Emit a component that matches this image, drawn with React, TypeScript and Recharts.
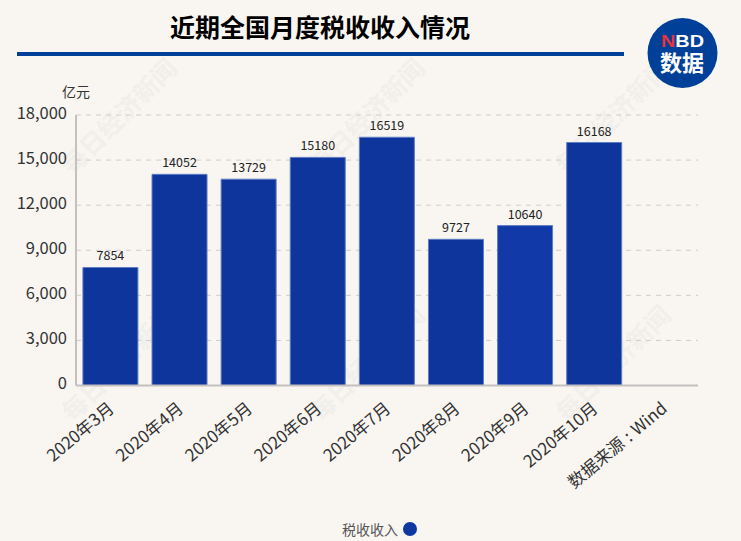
import React from 'react';
import { BarChart, Bar, XAxis, YAxis, CartesianGrid, Cell, LabelList, Legend } from 'recharts';

const categories = ['2020年3月', '2020年4月', '2020年5月', '2020年6月', '2020年7月', '2020年8月', '2020年9月', '2020年10月', '数据来源 : Wind'];
const values: (number | null)[] = [7854, 14052, 13729, 15180, 16519, 9727, 10640, 16168, null];
const yTicks = [0, 3000, 6000, 9000, 12000, 15000, 18000];
const seriesName = '税收收入';
const titleText = '近期全国月度税收收入情况';
const unitText = '亿元';
const watermark = '每日经济新闻';
const watermarkCentres = [[118, 115], [366, 115], [612, 115], [118, 362], [366, 362], [612, 362]];

const table = categories.map((name, i) => ({ name, value: values[i] }));
const FONT = '"Noto Sans CJK SC", "Noto Sans", sans-serif';
const BAR = '#0d359c';

const LegendBody = () => (
  <div style={{ position: 'absolute', left: 342, top: 0, display: 'flex', alignItems: 'center', height: 24, fontFamily: FONT, fontSize: 14, color: '#555' }}>
    <span>{seriesName}</span>
    <span style={{ display: 'inline-block', width: 14, height: 14, borderRadius: 7, background: '#0d38a0', marginLeft: 5 }} />
  </div>
);

const XTick = ({ x, y, payload }: any) => (
  <g transform={`translate(${x},${y + 11})`}>
    <text transform="rotate(-40)" textAnchor="end" wordSpacing={1} fontFamily={FONT} fontSize={17} fill="#333" dominantBaseline="central">{payload.value}</text>
  </g>
);

export default function App() {
  return (
    <div style={{ position: 'absolute', left: 0, top: 0, width: 741, height: 541, background: '#f9f6f2', overflow: 'hidden', fontFamily: FONT }}>
      <svg width={741} height={541} style={{ position: 'absolute', left: 0, top: 0 }}>
        {watermarkCentres.map(([x, y], i) => (
          <text key={i} x={x} y={y} transform={`rotate(-45 ${x} ${y})`} textAnchor="middle" dominantBaseline="central" fontFamily={FONT} fontWeight={700} fontSize={25} fill="#f1efeb">{watermark}</text>
        ))}
      </svg>
      <div style={{ position: 'absolute', left: 0, top: 0 }}>
        <BarChart width={741} height={541} data={table} margin={{ top: 115, right: 43, bottom: 31.5, left: 0 }} barCategoryGap="10%">
          <CartesianGrid horizontal vertical={false} stroke="#cfccc9" strokeDasharray="5 5" />
          <XAxis dataKey="name" interval={0} height={100} tickLine={false} axisLine={{ stroke: '#c3c0bf', strokeWidth: 2 }} tick={<XTick />} />
          <YAxis width={76} domain={[0, 18000]} ticks={yTicks} interval={0} tickLine={false} axisLine={{ stroke: '#c3c0bf', strokeWidth: 2 }}
            tickFormatter={(v: number) => v.toLocaleString('en-US')} tick={{ fontSize: 16.5, fill: '#333', fontFamily: FONT, dy: -2 }} tickMargin={3} />
          <Legend verticalAlign="bottom" height={24} wrapperStyle={{ bottom: 0, left: 0, width: 741 }} content={<LegendBody />} />
          <Bar dataKey="value" name={seriesName} fill={BAR} stroke="#5f7dc2" strokeWidth={1} isAnimationActive={false}>
            {table.map((d, i) => <Cell key={d.name} fill={i === 6 ? '#113aa8' : BAR} />)}
            <LabelList dataKey="value" position="top" offset={7} style={{ fontSize: 12.5, fill: '#222', fontFamily: FONT }} />
          </Bar>
        </BarChart>
      </div>
      <svg width={741} height={541} style={{ position: 'absolute', left: 0, top: 0, pointerEvents: 'none' }}>
        <text x={320} y={37} textAnchor="middle" fontFamily={FONT} fontWeight={700} fontSize={25} fill="#000">{titleText}</text>
        <rect x={17} y={52} width={607} height={4} fill="#004098" />
        <text x={62} y={97} fontFamily={FONT} fontSize={14} fill="#333">{unitText}</text>
        <circle cx={682.5} cy={53} r={35} fill="#004098" />
        <text x={661} y={47} textLength={43} lengthAdjust="spacingAndGlyphs" fontFamily='"Liberation Sans", sans-serif' fontWeight={700} fontSize={16.5} fill="#fff"><tspan fill="#e9323f">N</tspan>BD</text>
        <text x={682} y={71} textAnchor="middle" fontFamily={FONT} fontWeight={700} fontSize={22} fill="#fff">数据</text>
      </svg>
    </div>
  );
}
